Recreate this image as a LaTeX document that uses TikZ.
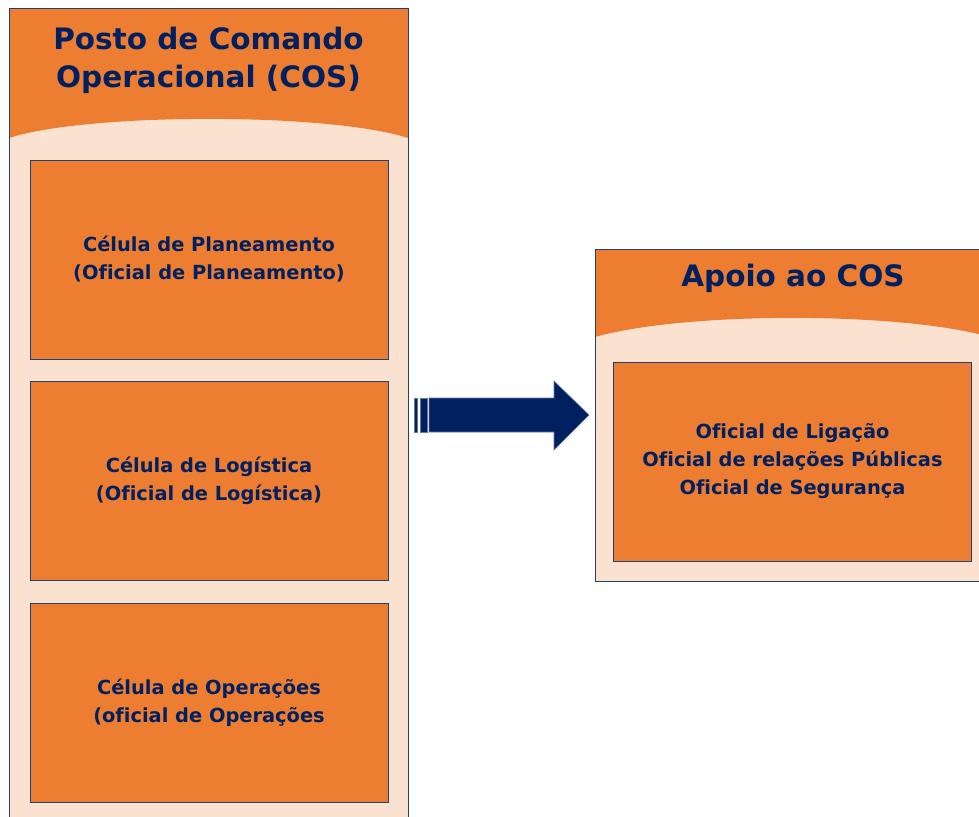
\documentclass[tikz,border=0pt]{standalone}
\usepackage{fontspec}
\setmainfont[Ligatures=NoCommon]{DejaVu Sans}
\usepackage{tikz}
\usetikzlibrary{positioning,calc}
\definecolor{laranja}{HTML}{ED7D31}
\definecolor{pessego}{HTML}{FBE1D0}
\definecolor{marinho}{HTML}{002060}
\definecolor{borda}{HTML}{1F3F7A}

\begin{document}
\begin{tikzpicture}[x=1pt,y=-1pt,
  every node/.style={font=\bfseries\fontsize{19.4}{28}\selectfont,align=center,text=marinho},
  titulo/.style={font=\bfseries\fontsize{29.5}{38}\selectfont},
  celula/.style={draw=borda,fill=laranja,line width=0.8pt,minimum width=358pt,minimum height=199pt,inner sep=0pt},
  painel/.style={fill=pessego},
  cabeca/.style={fill=laranja}
]
\useasboundingbox (0,0) rectangle (979,816);
\clip (0,0) rectangle (979,816);

% painel esquerdo
\fill[painel] (9,9) rectangle (408,820);
\fill[cabeca] (9,9)--(408,9)--(408,138) .. controls (330,112.5) and (87,112.5) .. (9,138)--cycle;
\draw[borda,line width=1pt] (9,820)--(9,9)--(408,9)--(408,820);
\node[titulo] (cos) at (208.5,60) {Posto de Comando\\Operacional (COS)};
\node[celula] (plan) at (209,259.5) {C\'elula de Planeamento\\(Oficial de Planeamento)};
\node[celula,below=22pt of plan] (log) {C\'elula de Log\'istica\\(Oficial de Log\'istica)};
\node[celula,below=22pt of log] (oper) {C\'elula de Opera\c{c}\~oes\\(oficial de Opera\c{c}\~oes};

% painel direito
\fill[painel] (595,249) rectangle (990,581);
\fill[cabeca] (595,249)--(990,249)--(990,337) .. controls (900,311.5) and (685,311.5) .. (595,337)--cycle;
\draw[borda,line width=1pt] (990,249)--(595,249)--(595,581)--(990,581);
\node[titulo] (apoio) at (793,278) {Apoio ao COS};
\node[celula] (ofic) at (792.5,461.5) {Oficial de Liga\c{c}\~ao\\Oficial de rela\c{c}\~oes P\'ublicas\\Oficial de Seguran\c{c}a};

% seta
\filldraw[marinho,draw=borda!70,line width=0.6pt] (414,398) rectangle (417,432) (420,398) rectangle (427,432);
\filldraw[marinho,draw=borda!70,line width=0.6pt] (429,398)--(554,398)--(554,381)--(589,415)--(554,450)--(554,432)--(429,432)--cycle;
\end{tikzpicture}
\end{document}
